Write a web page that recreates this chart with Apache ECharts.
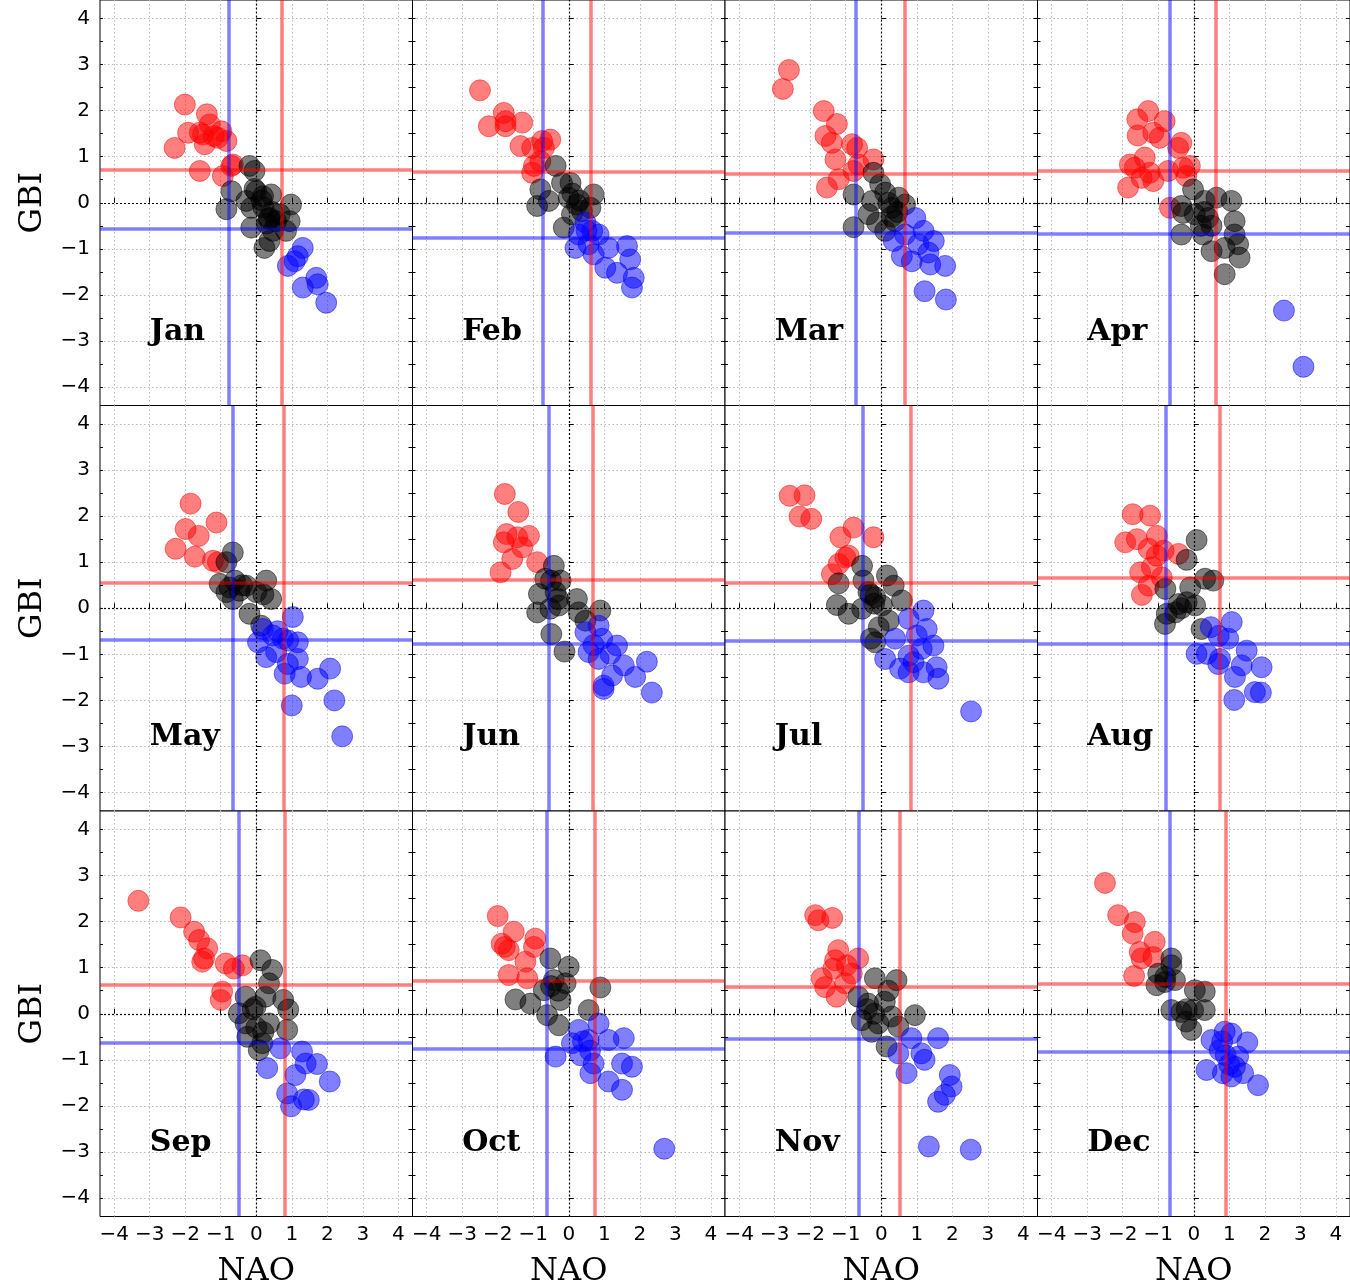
<!DOCTYPE html>
<html><head><meta charset="utf-8">
<script src="https://cdn.jsdelivr.net/npm/echarts@6/dist/echarts.min.js"></script>
<style>html,body{margin:0;padding:0;background:#fff}#c{width:1350px;height:1285px}</style>
</head><body><div id="c"></div>
<script>
const months = ['Jan','Feb','Mar','Apr','May','Jun','Jul','Aug','Sep','Oct','Nov','Dec'];
const tickValues = [-4,-3,-2,-1,0,1,2,3,4];
const minorTickValues = [-4,-3.5,-3,-2.5,-2,-1.5,-1,-0.5,0,0.5,1,1.5,2,2.5,3,3.5,4];
const labelPos = [-3,-3];
// thresholds (NAO = vertical lines, GBI = horizontal lines)
const redNAO  = [0.71,0.63,0.67,0.62,0.78,0.68,0.82,0.74,0.79,0.74,0.51,0.89];
const blueNAO = [-0.78,-0.74,-0.72,-0.68,-0.67,-0.56,-0.52,-0.79,-0.49,-0.63,-0.62,-0.68];
const redGBI  = [0.71,0.67,0.62,0.69,0.56,0.61,0.56,0.66,0.64,0.71,0.58,0.65];
const blueGBI = [-0.57,-0.77,-0.66,-0.68,-0.69,-0.78,-0.71,-0.78,-0.62,-0.77,-0.54,-0.82];

const janRed = [[-2.01,2.13],[-1.39,1.92],[-1.31,1.70],[-1.92,1.52],[-1.59,1.52],[-1.50,1.48],[-1.45,1.27],[-2.30,1.19],[-0.98,1.55],[-0.84,1.34],[-1.08,1.41],[-0.70,0.80],[-1.59,0.69],[-0.94,0.58],[-0.66,0.83],[-1.20,1.45]];
const janBlack = [[-0.19,0.80],[-0.05,0.69],[-0.70,0.25],[-0.84,-0.14],[-0.28,0.04],[0,0.25],[0.19,0.14],[0.42,0.18],[-0.14,-0.11],[0.37,-0.33],[0.56,-0.40],[0.98,-0.04],[0.94,-0.40],[-0.14,-0.54],[0.23,-0.98],[0.37,-0.83],[0.84,-0.61],[0.47,-0.61],[0.66,-0.25],[0.35,-0.35],[0.45,-0.2],[0.2,-0.1],[0.3,-0.45],[0.15,0.05],[-0.05,0.3]];
const janBlue = [[1.31,-0.98],[1.17,-1.16],[0.89,-1.37],[1.31,-1.84],[1.69,-1.63],[1.73,-1.77],[1.97,-2.17],[1.08,-1.27]];

const febRed = [[-2.50,2.44],[-1.83,1.95],[-2.25,1.66],[-1.78,1.66],[-1.31,1.74],[-1.36,1.23],[-1.03,1.19],[-0.75,1.34],[-0.52,1.37],[-0.70,1.19],[-0.98,0.80],[-1.03,0.65],[-0.80,0.90],[-1.78,1.77]];
const febBlack = [[-0.37,0.80],[-0.80,0.29],[-0.89,-0.07],[-0.56,0.04],[-0.19,0.43],[0.05,0.43],[0,0.11],[0.23,-0.04],[0.70,0.18],[0.61,-0.11],[-0.14,-0.54],[0.09,-0.25],[0.37,-0.18],[0.1,0.2],[0.3,0.05]];
const febBlue = [[0.47,-0.43],[0.28,-0.69],[0.66,-0.61],[0.84,-0.69],[0.56,-0.90],[1.12,-0.98],[0.70,-1.12],[1.03,-1.41],[1.36,-1.52],[1.64,-0.94],[1.73,-1.23],[1.83,-1.63],[1.78,-1.84],[0.19,-0.98],[0.5,-0.6]];

const marRed = [[-2.60,2.88],[-2.77,2.47],[-1.62,1.99],[-1.25,1.71],[-1.57,1.45],[-1.39,1.30],[-0.82,1.27],[-0.68,1.19],[-1.29,0.94],[-1.20,0.51],[-1.53,0.33],[-0.64,0.83],[-0.22,0.94],[-0.78,0.69]];
const marBlack = [[-0.22,0.65],[-0.78,0.18],[-0.78,-0.53],[-0.36,-0.25],[-0.03,0.40],[0.11,0.22],[0.49,0.11],[0.30,-0.11],[-0.12,-0.43],[0.11,-0.61],[0.39,-0.40],[0.67,-0.04],[-0.26,0.04],[0.3,-0.3],[0.45,-0.2],[0.2,0.0]];
const marBlue = [[0.96,-0.33],[1.19,-0.61],[0.67,-0.69],[1.05,-0.90],[1.48,-0.83],[1.33,-1.08],[0.58,-1.16],[0.86,-1.27],[1.38,-1.34],[1.80,-1.37],[1.22,-1.92],[1.82,-2.10],[0.35,-0.83]];

const aprRed = [[-1.28,1.99],[-1.59,1.81],[-0.82,1.77],[-1.58,1.46],[-1.14,1.52],[-0.96,1.41],[-0.35,1.30],[-0.44,1.19],[-1.38,0.98],[-1.80,0.83],[-1.66,0.76],[-1.24,0.65],[-1.14,0.47],[-1.85,0.33],[-0.72,0.69],[-0.30,0.76],[-0.11,0.80],[-0.21,0.58],[-0.67,-0.11],[-1.47,0.54]];
const aprBlack = [[-0.02,0.29],[-0.35,-0.07],[-0.30,-0.22],[-0.35,-0.69],[0.31,0.04],[0.64,0.11],[1.06,0.04],[0.40,-0.33],[0.26,-0.69],[1.15,-0.40],[1.15,-0.69],[1.25,-0.90],[0.50,-1.05],[0.87,-0.98],[1.29,-1.19],[0.87,-1.55],[0.03,-0.25],[0.3,-0.2],[0.5,-0.5],[0.2,-0.5]];
const aprBlue = [[2.54,-2.34],[3.09,-3.56]];

const mayRed = [[-1.85,2.27],[-1.99,1.72],[-1.62,1.57],[-1.12,1.86],[-2.27,1.29],[-1.73,1.12],[-1.22,1.03],[-1.08,1.00]];
const mayBlack = [[-0.66,1.21],[-0.84,1.00],[-1.03,0.53],[-0.75,0.45],[-0.47,0.38],[-0.28,0.49],[0.28,0.60],[0.42,0.20],[0,0.35],[-0.66,0.20],[-0.19,-0.12],[0.14,-0.38],[-0.84,0.35],[-0.6,0.6],[-0.4,0.5],[0.2,0.3]];
const mayBlue = [[1.03,-0.19],[0.19,-0.45],[0.05,-0.74],[0.47,-0.59],[0.75,-0.66],[1.17,-0.74],[0.28,-1.06],[0.56,-0.95],[1.17,-1.10],[0.89,-1.21],[0.80,-1.42],[1.26,-1.49],[1.73,-1.53],[2.08,-1.31],[1.00,-2.11],[2.20,-2.00],[2.42,-2.78],[0.6,-0.5],[0.9,-0.7]];

const junRed = [[-1.80,2.48],[-1.42,2.09],[-1.75,1.61],[-1.83,1.43],[-1.45,1.54],[-1.12,1.57],[-1.31,1.32],[-1.59,1.07],[-0.89,1.00],[-1.92,0.78]];
const junBlack = [[-0.42,0.92],[-0.66,0.64],[-0.84,0.31],[-0.23,0.60],[-0.37,0.35],[-0.89,-0.09],[-0.52,-0.01],[-0.28,0.06],[0.23,0.20],[0.28,-0.09],[0.89,-0.05],[0.47,-0.27],[-0.49,-0.56],[-0.12,-0.94],[-0.5,0.6],[-0.3,0.2]];
const junBlue = [[0.84,-0.38],[0.47,-0.52],[0.94,-0.66],[1.36,-0.81],[0.56,-0.95],[0.84,-1.10],[1.17,-0.99],[1.55,-1.24],[2.20,-1.16],[1.87,-1.49],[1.22,-1.46],[0.98,-1.68],[0.98,-1.75],[2.34,-1.83],[0.7,-0.8]];

const julRed = [[-2.58,2.44],[-2.16,2.45],[-2.30,1.99],[-1.97,1.94],[-0.78,1.75],[-1.15,1.54],[-0.22,1.54],[-1.01,1.10],[-0.92,1.14],[-1.39,0.74],[-1.20,0.96]];
const julBlack = [[-0.54,0.92],[-1.20,0.54],[-0.50,0.60],[0.16,0.71],[0.35,0.49],[-0.36,0.35],[-0.17,0.24],[-1.25,0.07],[-0.92,-0.12],[-0.54,-0.01],[0.02,0.06],[0.58,0.17],[0.21,-0.27],[-0.07,-0.41],[-0.29,-0.66],[-0.17,-0.74],[-0.3,0.3],[-0.2,0.1]];
const julBlue = [[1.19,-0.05],[0.77,-0.23],[1.28,-0.45],[1.00,-0.59],[0.39,-0.66],[1.47,-0.81],[1.14,-0.88],[0.11,-1.10],[0.77,-1.03],[0.91,-1.17],[0.53,-1.31],[0.77,-1.39],[1.19,-1.39],[1.56,-1.28],[1.61,-1.53],[2.53,-2.24]];

const augRed = [[-1.72,2.04],[-1.23,2.01],[-1.93,1.43],[-1.60,1.50],[-1.04,1.57],[-1.27,1.29],[-0.85,1.25],[-0.43,1.18],[-1.51,0.78],[-1.18,0.89],[-0.90,0.67],[-1.46,0.29],[-1.27,0.49],[-1.04,1.14]];
const augBlack = [[0.08,1.48],[-0.20,1.05],[-0.80,0.42],[-0.10,0.45],[0.32,0.64],[0.55,0.60],[-0.43,0.09],[-0.20,0.13],[0.04,0.06],[-0.76,-0.12],[-0.81,-0.34],[0.22,-0.45],[-0.52,-0.09],[-0.35,0.0]];
const augBlue = [[1.07,-0.30],[0.48,-0.41],[0.97,-0.66],[0.08,-0.99],[0.37,-0.99],[0.69,-1.21],[1.49,-0.92],[1.35,-1.24],[1.91,-1.28],[1.16,-1.49],[1.72,-1.82],[1.89,-1.83],[1.14,-1.99],[0.74,-1.10],[0.7,-0.6]];

const sepRed = [[-3.32,2.45],[-2.13,2.09],[-1.75,1.78],[-1.61,1.60],[-1.38,1.42],[-1.47,1.20],[-1.52,1.13],[-0.86,1.09],[-0.39,1.05],[-0.63,0.98],[-0.96,0.48],[-1.00,0.30]];
const sepBlack = [[0.12,1.16],[0.45,0.95],[0.36,0.66],[-0.30,0.37],[0.26,0.37],[0.76,0.30],[0.90,0.09],[-0.49,0.01],[-0.02,0.15],[-0.30,-0.21],[0.36,-0.21],[0.87,-0.35],[-0.25,-0.50],[0.17,-0.64],[0.07,-0.79],[0.0,-0.3],[-0.1,0.1],[0.2,-0.4]];
const sepBlue = [[0.68,-0.75],[1.29,-0.82],[1.39,-1.08],[1.71,-1.09],[0.31,-1.18],[1.10,-1.33],[2.07,-1.47],[0.87,-1.73],[1.34,-1.86],[1.48,-1.87],[0.98,-2.01]];

const octRed = [[-2.00,2.12],[-1.55,1.78],[-1.89,1.52],[-1.69,1.38],[-0.94,1.63],[-0.98,1.45],[-1.22,1.13],[-1.69,0.84],[-1.17,0.77],[-1.8,1.45]];
const octBlack = [[-0.52,1.20],[0,1.02],[-0.42,0.73],[-0.09,0.66],[-0.70,0.51],[0.89,0.57],[-1.50,0.31],[-1.08,0.22],[-0.23,0.30],[-0.61,-0.03],[-0.28,-0.25],[0.56,0.08],[-0.5,0.6],[-0.3,0.5]];
const octBlue = [[0.84,-0.21],[0.28,-0.35],[0.09,-0.64],[0.56,-0.57],[1.12,-0.57],[1.55,-0.53],[-0.37,-0.93],[0.33,-0.90],[0.70,-1.08],[0.61,-1.29],[1.50,-1.08],[1.78,-1.15],[1.12,-1.47],[1.50,-1.65],[2.69,-2.93],[0.4,-0.6],[0.6,-0.8]];

const novRed = [[-1.86,2.14],[-1.77,2.03],[-1.38,2.08],[-1.21,1.38],[-1.30,1.16],[-0.65,1.20],[-1.35,0.98],[-0.97,1.05],[-1.68,0.77],[-1.58,0.58],[-1.26,0.37],[-0.83,0.87],[-1.02,0.66]];
const novBlack = [[-0.18,0.77],[0.43,0.73],[-0.65,0.37],[-0.37,0.22],[0.10,0.26],[-0.55,-0.14],[-0.08,-0.21],[0.29,-0.06],[0.95,-0.03],[0.48,-0.28],[0.15,-0.71],[-0.27,-0.39],[-0.4,0.1],[0.2,0.5],[-0.2,0.0]];
const novBlue = [[0.85,-0.53],[1.60,-0.53],[0.48,-0.86],[1.13,-0.86],[1.22,-1.00],[0.71,-1.29],[1.93,-1.33],[1.98,-1.58],[1.60,-1.91],[1.79,-1.76],[1.34,-2.88],[2.52,-2.95]];

const decRed = [[-2.50,2.84],[-2.13,2.14],[-1.66,1.99],[-1.72,1.74],[-1.10,1.56],[-1.52,1.34],[-1.47,1.20],[-1.14,1.23],[-1.68,0.82]];
const decBlack = [[-0.63,1.20],[-0.63,1.05],[-1.00,0.87],[-0.81,0.69],[-1.05,0.62],[-0.53,0.73],[0.03,0.51],[0.31,0.48],[-0.63,0.08],[-0.35,0.04],[-0.02,0.08],[0.31,0.08],[-0.07,-0.35],[-0.21,-0.17],[-0.8,0.8],[-0.2,0.1]];
const decBlue = [[0.50,-0.57],[0.87,-0.39],[1.06,-0.43],[1.51,-0.62],[0.73,-0.79],[1.25,-0.93],[0.36,-1.22],[0.82,-1.29],[1.06,-1.36],[1.39,-1.29],[1.81,-1.55],[1.16,-1.15],[0.8,-0.6],[0.9,-0.9],[1.0,-1.1]];

const redSets = [janRed,febRed,marRed,aprRed,mayRed,junRed,julRed,augRed,sepRed,octRed,novRed,decRed];
const blackSets = [janBlack,febBlack,marBlack,aprBlack,mayBlack,junBlack,julBlack,augBlack,sepBlack,octBlack,novBlack,decBlack];
const blueSets = [janBlue,febBlue,marBlue,aprBlue,mayBlue,junBlue,julBlue,augBlue,sepBlue,octBlue,novBlue,decBlue];

const chart = echarts.init(document.getElementById('c'), null, {renderer: 'canvas'});
const L = 100, W = 312.5, T = 0, H = 405.5;
const AMIN = -4.4, AMAX = 4.4;
function fmt(v) { return v < 0 ? '\u2212' + Math.abs(v) : String(v); }
const grids = [], xAxes = [], yAxes = [], series = [];
const tickStyle = {color: '#000', width: 1};
const gridLine = {type: [1.5, 2.5], color: '#b8b8b8', width: 1};
for (let i = 0; i < 12; i++) {
  const r = Math.floor(i / 4), c = i % 4;
  const bottom = r === 2, left = c === 0;
  grids.push({left: L + c * W, top: T + r * H, width: W, height: H, show: true,
    outerBoundsMode: 'none', containLabel: false,
    borderColor: '#000', borderWidth: 1, backgroundColor: '#fff'});
  xAxes.push({gridIndex: i, type: 'value', min: AMIN, max: AMAX, position: 'bottom',
    axisLine: {show: false},
    axisTick: {show: true, inside: true, length: 5, customValues: tickValues, lineStyle: tickStyle},
    axisLabel: {show: bottom, customValues: tickValues, formatter: fmt, fontSize: 20, color: '#000',
      fontFamily: 'DejaVu Sans', margin: 8},
    splitLine: {show: true, lineStyle: gridLine},
    name: bottom ? 'NAO' : '', nameLocation: 'middle', nameGap: 39,
    nameTextStyle: {fontFamily: 'DejaVu Serif', fontSize: 32, color: '#000'}});
  yAxes.push({gridIndex: i, type: 'value', min: AMIN, max: AMAX, position: 'left',
    axisLine: {show: false},
    axisTick: {show: true, inside: true, length: 5, customValues: tickValues, lineStyle: tickStyle},
    axisLabel: {show: left, customValues: tickValues, formatter: fmt, fontSize: 20, color: '#000',
      fontFamily: 'DejaVu Sans', margin: 10},
    splitLine: {show: true, lineStyle: gridLine},
    name: left ? 'GBI' : '', nameLocation: 'middle', nameGap: 51, nameRotate: 90,
    nameTextStyle: {fontFamily: 'DejaVu Serif', fontSize: 32, color: '#000'}});
  yAxes.push({gridIndex: i, type: 'value', min: AMIN, max: AMAX, position: 'left',
    axisLine: {show: false}, axisLabel: {show: false}, splitLine: {show: false},
    axisTick: {show: true, inside: true, length: 3, customValues: minorTickValues, lineStyle: tickStyle}});
  yAxes.push({gridIndex: i, type: 'value', min: AMIN, max: AMAX, position: 'right',
    axisLine: {show: false}, axisLabel: {show: false}, splitLine: {show: false},
    axisTick: {show: true, inside: true, length: 4, customValues: minorTickValues, lineStyle: tickStyle}});
  const yi = 3 * i;
  const pt = (color, data) => ({type: 'scatter', xAxisIndex: i, yAxisIndex: yi, data: data,
    symbolSize: 21, itemStyle: {color: color, opacity: 0.5, borderColor: color, borderWidth: 1},
    silent: true, z: 3});
  series.push({type: 'scatter', xAxisIndex: i, yAxisIndex: yi, data: [], silent: true, z: 2,
    markLine: {silent: true, symbol: ['none', 'none'], label: {show: false}, animation: false,
      data: [
        {xAxis: 0, lineStyle: {color: '#000', type: [2, 2], width: 1.2}},
        {yAxis: 0, lineStyle: {color: '#000', type: [2, 2], width: 1.2}}
      ]}});
  series.push(pt('#ff0000', redSets[i]));
  series.push(pt('#000000', blackSets[i]));
  series.push(pt('#0000ff', blueSets[i]));
  series.push({type: 'scatter', xAxisIndex: i, yAxisIndex: yi, data: [], silent: true, z: 4,
    markLine: {silent: true, symbol: ['none', 'none'], label: {show: false}, animation: false,
      data: [
        {xAxis: redNAO[i], lineStyle: {color: 'rgba(255,0,0,0.5)', type: 'solid', width: 3.5}},
        {yAxis: redGBI[i], lineStyle: {color: 'rgba(255,0,0,0.5)', type: 'solid', width: 3.5}},
        {xAxis: blueNAO[i], lineStyle: {color: 'rgba(0,0,255,0.5)', type: 'solid', width: 3.5}},
        {yAxis: blueGBI[i], lineStyle: {color: 'rgba(0,0,255,0.5)', type: 'solid', width: 3.5}}
      ]}});
  series.push({type: 'custom', xAxisIndex: i, yAxisIndex: yi, data: [labelPos], silent: true, z: 5,
    renderItem: (params, api) => {
      const p = api.coord([api.value(0), api.value(1)]);
      return {type: 'text', x: p[0], y: p[1] + 6,
        style: {text: months[i], fontFamily: 'DejaVu Serif', fontWeight: 'bold', fontSize: 30,
          fill: '#000', align: 'left', verticalAlign: 'bottom'}};
    }});
}
chart.setOption({animation: false, backgroundColor: '#fff', grid: grids, xAxis: xAxes, yAxis: yAxes, series: series});
</script></body></html>
